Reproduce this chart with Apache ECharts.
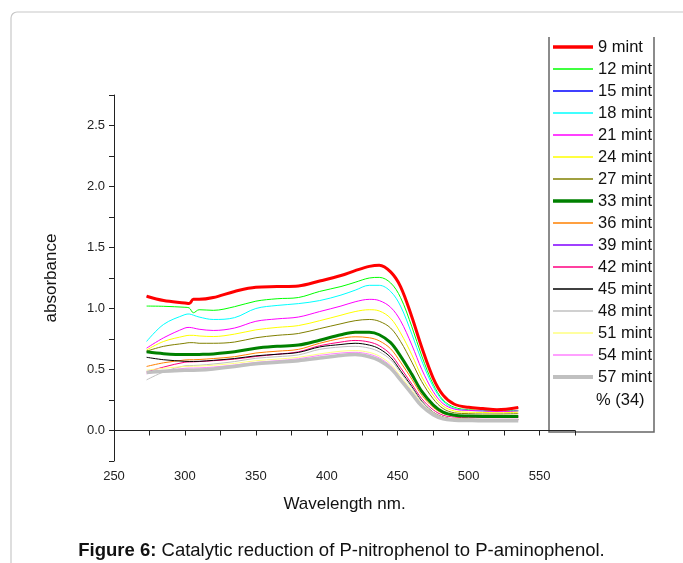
<!DOCTYPE html>
<html><head><meta charset="utf-8">
<script src="https://cdn.jsdelivr.net/npm/echarts@6/dist/echarts.min.js"></script>
<style>html,body{margin:0;padding:0;background:#fff}#c{width:683px;height:563px}</style>
</head><body><div id="c"></div>
<script>
const wavelengths = [273, 285, 300, 303, 306, 310, 320, 335, 350, 365, 380, 395, 410, 420, 430, 437, 445, 452, 460, 467, 475, 482, 490, 500, 510, 520, 535];
const seriesNames = ['9 mint','12 mint','15 mint','18 mint','21 mint','24 mint','27 mint','33 mint','36 mint','39 mint','42 mint','45 mint','48 mint','51 mint','54 mint','57 mint'];
const m9  = [1.10,1.065,1.045,1.04,1.075,1.075,1.09,1.14,1.175,1.18,1.185,1.225,1.27,1.31,1.345,1.355,1.30,1.18,0.93,0.68,0.43,0.29,0.215,0.19,0.18,0.17,0.188];
const m12 = [1.02,1.018,1.01,1.005,0.965,0.99,0.985,1.015,1.06,1.08,1.09,1.14,1.18,1.215,1.25,1.255,1.21,1.09,0.85,0.61,0.38,0.25,0.19,0.17,0.165,0.16,0.165];
const m15 = [1.10,1.065,1.045,1.04,1.075,1.075,1.09,1.14,1.175,1.18,1.185,1.225,1.27,1.31,1.345,1.355,1.30,1.18,0.93,0.68,0.43,0.29,0.215,0.19,0.18,0.17,0.188];
const m18 = [0.73,0.87,0.95,0.955,0.945,0.93,0.91,0.925,1.0,1.025,1.04,1.065,1.11,1.15,1.19,1.19,1.14,1.02,0.79,0.57,0.36,0.24,0.18,0.165,0.16,0.155,0.16];
const m21 = [0.675,0.76,0.84,0.845,0.84,0.83,0.82,0.84,0.895,0.915,0.93,0.975,1.02,1.055,1.075,1.065,1.01,0.90,0.70,0.50,0.32,0.22,0.175,0.165,0.16,0.155,0.16];
const m24 = [0.66,0.73,0.775,0.78,0.78,0.775,0.77,0.79,0.825,0.845,0.86,0.90,0.945,0.975,0.99,0.98,0.92,0.80,0.62,0.44,0.29,0.20,0.16,0.15,0.148,0.145,0.15];
const m27 = [0.65,0.69,0.715,0.72,0.72,0.715,0.715,0.725,0.76,0.78,0.795,0.835,0.875,0.90,0.91,0.895,0.84,0.73,0.56,0.40,0.26,0.18,0.145,0.138,0.135,0.135,0.138];
const m33 = [0.645,0.63,0.622,0.622,0.622,0.623,0.628,0.645,0.675,0.69,0.70,0.74,0.785,0.805,0.805,0.785,0.72,0.61,0.46,0.32,0.21,0.15,0.125,0.118,0.115,0.115,0.115];
const m36 = [0.525,0.555,0.578,0.58,0.58,0.582,0.59,0.605,0.635,0.65,0.665,0.715,0.755,0.768,0.76,0.735,0.67,0.56,0.42,0.29,0.19,0.14,0.125,0.12,0.12,0.12,0.12];
const m39 = [0.645,0.63,0.622,0.622,0.622,0.623,0.628,0.645,0.675,0.69,0.70,0.74,0.785,0.805,0.805,0.785,0.72,0.61,0.46,0.32,0.21,0.15,0.125,0.118,0.115,0.115,0.115];
const m42 = [0.48,0.52,0.56,0.562,0.563,0.565,0.572,0.585,0.607,0.625,0.645,0.695,0.725,0.738,0.725,0.695,0.625,0.515,0.38,0.26,0.17,0.125,0.11,0.105,0.105,0.105,0.105];
const m45 = [0.60,0.58,0.567,0.566,0.566,0.567,0.575,0.59,0.612,0.625,0.64,0.685,0.705,0.715,0.70,0.67,0.60,0.49,0.36,0.24,0.15,0.11,0.095,0.092,0.09,0.09,0.09];
const m48 = [0.415,0.48,0.53,0.532,0.533,0.535,0.545,0.565,0.592,0.605,0.62,0.665,0.685,0.69,0.675,0.645,0.58,0.475,0.35,0.235,0.15,0.11,0.095,0.09,0.088,0.088,0.088];
const m51 = [0.495,0.51,0.525,0.526,0.527,0.528,0.535,0.55,0.572,0.585,0.60,0.628,0.65,0.655,0.64,0.61,0.545,0.445,0.33,0.22,0.145,0.105,0.095,0.092,0.09,0.09,0.09];
const m54 = [0.465,0.49,0.51,0.512,0.512,0.513,0.52,0.537,0.558,0.572,0.588,0.616,0.635,0.641,0.625,0.595,0.53,0.43,0.315,0.21,0.14,0.10,0.09,0.087,0.085,0.085,0.085];
const m57 = [0.475,0.485,0.493,0.494,0.494,0.495,0.505,0.525,0.548,0.56,0.572,0.594,0.615,0.622,0.605,0.575,0.51,0.415,0.30,0.20,0.13,0.095,0.085,0.082,0.08,0.08,0.08];
const seriesValues = [m9,m12,m15,m18,m21,m24,m27,m33,m36,m39,m42,m45,m48,m51,m54,m57];
const seriesColors = ['#ff0000','#00ff00','#0000ff','#00ffff','#ff00ff','#ffff00','#808000','#008000','#ff8000','#8000ff','#ff0080','#000000','#c0c0c0','#ffff80','#ff80ff','#c0c0c0'];
const seriesWidths = [3,1,1,1,1,1,1,3,1,1,1,1,1,1,1,3.5];
const seriesLayer = [3,2,1,2,2,2,2,3,1,2,2,2,2,2,2,2];
const xTicks = [250,300,350,400,450,500,550];
const yTicks = [0,0.5,1,1.5,2,2.5];
const footnote = '% (34)';

const FONT = 'Arial, "Liberation Sans", sans-serif';
const chart = echarts.init(document.getElementById('c'), null, {renderer:'canvas'});
const series = seriesNames.map((n,i)=>({
  name:n, type:'line', symbol:'none', smooth:0.35, animation:false, z:seriesLayer[i],
  data: wavelengths.map((w,j)=>[w, seriesValues[i][j]]),
  lineStyle:{color:seriesColors[i], width:seriesWidths[i]},
  itemStyle:{color:seriesColors[i]}
}));
chart.setOption({
  animation:false,
  backgroundColor:'#fff',
  textStyle:{fontFamily:FONT},
  grid:{left:114, right:108, top:95, bottom:102, containLabel:false},
  xAxis:{type:'value', min:250, max:575, interval:25,
    name:'Wavelength nm.', nameLocation:'middle', nameGap:35,
    nameTextStyle:{fontSize:17, color:'#111', fontFamily:FONT},
    axisLine:{lineStyle:{color:'#222', width:1}},
    axisTick:{inside:false, length:5, lineStyle:{color:'#222'}},
    axisLabel:{fontSize:13, color:'#222', margin:9, fontFamily:FONT,
      formatter:v=> xTicks.indexOf(v)>=0 ? String(v) : ''},
    splitLine:{show:false}},
  yAxis:{type:'value', min:-0.25, max:2.75, interval:0.25,
    name:'absorbance', nameLocation:'middle', nameGap:54, nameRotate:90,
    nameTextStyle:{fontSize:17, color:'#111', fontFamily:FONT},
    axisLine:{lineStyle:{color:'#222', width:1}},
    axisTick:{inside:false, length:5, lineStyle:{color:'#222'}},
    axisLabel:{fontSize:13, color:'#222', margin:9, fontFamily:FONT,
      formatter:v=>{ const r=Math.round(v*100)/100; return yTicks.indexOf(r)>=0 ? r.toFixed(1) : ''; }},
    splitLine:{show:false}},
  legend:{orient:'vertical', left:551, top:37, padding:0, itemWidth:40, itemHeight:20, itemGap:2,
    itemStyle:{opacity:0},
    textStyle:{fontSize:16.5, color:'#111', lineHeight:20, fontFamily:FONT},
    data:seriesNames.map((n,i)=>({name:n, lineStyle:{width:seriesWidths[i]+0.5, color:seriesColors[i]}}))},
  title:{text:'{b|Figure 6:} Catalytic reduction of P-nitrophenol to P-aminophenol.', left:'center', top:536,
    textStyle:{fontSize:18.5, fontWeight:'normal', color:'#111', fontFamily:FONT,
      rich:{b:{fontSize:18.5, fontWeight:'bold', color:'#111', fontFamily:FONT}}}},
  graphic:[
    {type:'rect', shape:{x:11, y:12, width:720, height:600, r:6}, style:{fill:'none', stroke:'#c8c8c8', lineWidth:1.2}, silent:true, z:-1},
    {type:'polyline', shape:{points:[[549,37],[549,432],[654,432],[654,37]]}, style:{fill:'none', stroke:'#666', lineWidth:1.5}, silent:true},
    {type:'text', left:596, top:392, style:{text:footnote, fontSize:16.5, fill:'#111', fontFamily:FONT}, silent:true}
  ],
  series: series
});
</script></body></html>
